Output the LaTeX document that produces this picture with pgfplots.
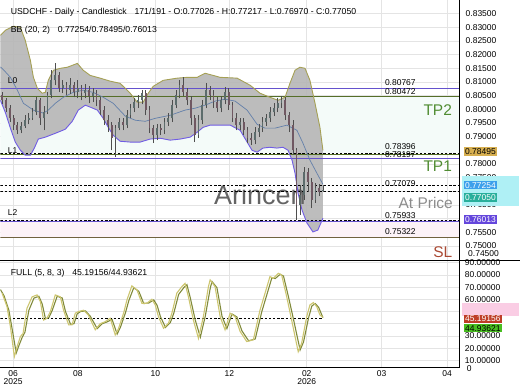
\documentclass[border=0pt]{standalone}
\usepackage{pgfplots}
\pgfplotsset{compat=1.18}
\usepackage{pgfplotstable}
\usepgfplotslibrary{fillbetween}
\usepackage{fontspec}
\setmainfont{Liberation Sans}

\definecolor{gridc}{RGB}{228,228,228}
\definecolor{bbfill}{RGB}{182,182,182}
\definecolor{bbupc}{RGB}{165,160,85}
\definecolor{bbloc}{RGB}{112,92,228}
\definecolor{bbmidc}{RGB}{100,128,170}
\definecolor{lvlpurple}{RGB}{100,82,205}
\definecolor{lvlolive}{RGB}{85,110,40}
\definecolor{slline}{RGB}{112,98,62}
\definecolor{wickc}{RGB}{78,78,78}
\definecolor{upc}{RGB}{92,108,108}
\definecolor{dnc}{RGB}{112,88,98}
\definecolor{tpgreen}{RGB}{80,140,50}
\definecolor{slred}{RGB}{170,72,50}
\definecolor{atgray}{RGB}{140,140,140}
\definecolor{wmark}{RGB}{100,100,100}
\definecolor{tp2zone}{RGB}{244,251,249}
\definecolor{slzone}{RGB}{252,242,247}
\definecolor{oscK}{RGB}{205,198,112}
\definecolor{oscD}{RGB}{128,138,58}
\definecolor{boxgold}{RGB}{215,175,80}
\definecolor{boxblue}{RGB}{60,160,235}
\definecolor{boxteal}{RGB}{40,175,155}
\definecolor{boxpurple}{RGB}{100,70,220}
\definecolor{boxcyan}{RGB}{175,240,245}
\definecolor{boxred}{RGB}{190,62,40}
\definecolor{boxgreen}{RGB}{72,190,32}
\definecolor{boxpink}{RGB}{250,205,228}

\pgfplotstableread{
x o h l c
1 0.8051 0.8062 0.8018 0.8033
3 0.8033 0.8040 0.7989 0.8004
5 0.8004 0.8015 0.7953 0.7967
7 0.7967 0.7978 0.7923 0.7942
9 0.7942 0.7953 0.7909 0.7923
11 0.7923 0.7953 0.7912 0.7938
13 0.7938 0.7978 0.7931 0.7960
15 0.7960 0.7986 0.7945 0.7967
17 0.7967 0.8004 0.7960 0.7989
19 0.7989 0.8044 0.7978 0.8033
21 0.8033 0.8040 0.7942 0.7967
23 0.7967 0.8011 0.7923 0.7989
25 0.7989 0.8062 0.7982 0.8051
27 0.8051 0.8143 0.8040 0.8106
29 0.8106 0.8168 0.8088 0.8124
31 0.8124 0.8135 0.8062 0.8077
33 0.8077 0.8106 0.8059 0.8088
35 0.8088 0.8099 0.8051 0.8070
37 0.8070 0.8114 0.8055 0.8088
39 0.8088 0.8099 0.8044 0.8062
41 0.8062 0.8106 0.8040 0.8077
43 0.8077 0.8088 0.8033 0.8059
45 0.8059 0.8092 0.8040 0.8070
47 0.8070 0.8084 0.8022 0.8048
49 0.8048 0.8077 0.8026 0.8059
51 0.8059 0.8070 0.8011 0.8033
53 0.8033 0.8044 0.7978 0.7997
55 0.7997 0.8011 0.7942 0.7960
57 0.7960 0.7978 0.7916 0.7942
59 0.7942 0.7953 0.7850 0.7894
61 0.7894 0.7942 0.7825 0.7931
63 0.7931 0.7967 0.7923 0.7953
65 0.7953 0.7967 0.7923 0.7942
67 0.7942 0.7997 0.7931 0.7978
69 0.7978 0.8018 0.7967 0.8004
71 0.8004 0.8040 0.7989 0.8026
73 0.8026 0.8051 0.8004 0.8033
75 0.8033 0.8070 0.8018 0.8059
77 0.8059 0.8070 0.7978 0.7997
79 0.7997 0.8011 0.7912 0.7931
81 0.7931 0.7942 0.7876 0.7905
83 0.7905 0.7945 0.7887 0.7931
85 0.7931 0.7945 0.7905 0.7923
87 0.7923 0.7967 0.7909 0.7953
89 0.7953 0.7986 0.7938 0.7967
91 0.7967 0.8033 0.7953 0.8015
93 0.8015 0.8070 0.8004 0.8051
95 0.8051 0.8106 0.8040 0.8088
97 0.8088 0.8117 0.8048 0.8062
99 0.8062 0.8077 0.8015 0.8033
101 0.8033 0.8048 0.7942 0.7967
103 0.7967 0.7978 0.7880 0.7905
105 0.7905 0.7978 0.7894 0.7960
107 0.7960 0.8033 0.7945 0.8015
109 0.8015 0.8095 0.8004 0.8070
111 0.8070 0.8084 0.8033 0.8051
113 0.8051 0.8070 0.8004 0.8026
115 0.8026 0.8044 0.7989 0.8004
117 0.8004 0.8048 0.7989 0.8033
119 0.8033 0.8081 0.8018 0.8062
121 0.8062 0.8077 0.7997 0.8015
123 0.8015 0.8026 0.7953 0.7967
125 0.7967 0.7986 0.7923 0.7942
127 0.7942 0.7967 0.7923 0.7953
129 0.7953 0.7967 0.7905 0.7923
131 0.7923 0.7934 0.7876 0.7894
133 0.7894 0.7912 0.7869 0.7887
135 0.7887 0.7934 0.7872 0.7916
137 0.7916 0.7945 0.7898 0.7931
139 0.7931 0.7971 0.7916 0.7953
141 0.7953 0.7982 0.7938 0.7967
143 0.7967 0.8008 0.7953 0.7989
145 0.7989 0.8022 0.7975 0.8004
147 0.8004 0.8040 0.7989 0.8022
149 0.8022 0.8048 0.8004 0.8033
151 0.8033 0.8044 0.7960 0.7978
153 0.7978 0.7989 0.7916 0.7942
155 0.7942 0.7960 0.7832 0.7850
157 0.7850 0.7858 0.7594 0.7649
159 0.7649 0.7722 0.7613 0.7686
161 0.7686 0.7788 0.7668 0.7770
163 0.7770 0.7785 0.7697 0.7733
165 0.7733 0.7748 0.7638 0.7668
167 0.7668 0.7730 0.7657 0.7712
169 0.7712 0.7726 0.7682 0.7697
171 0.77026 0.77217 0.76970 0.77050
}\candles

\pgfplotstableread{
x y
0 0.8271
2.6 0.8289
6.9 0.8304
10.6 0.8300
13.2 0.8252
15.9 0.8179
17.5 0.8117
19.6 0.8077
22.2 0.8059
23.8 0.8062
25.4 0.8106
28.1 0.8143
31.8 0.8150
35.5 0.8154
40.8 0.8168
43.9 0.8143
47.6 0.8124
52.9 0.8114
58.2 0.8103
63.5 0.8095
68.8 0.8059
72.5 0.8026
75.7 0.8026
78.4 0.8059
81.0 0.8084
86.3 0.8106
93.7 0.8114
99.0 0.8117
104.3 0.8117
108.5 0.8132
112.8 0.8124
116.5 0.8117
125.5 0.8114
132.4 0.8088
137.6 0.8059
142.9 0.8044
147.2 0.8033
150.9 0.8044
153.5 0.8095
156.2 0.8143
158.8 0.8154
161.5 0.8150
164.1 0.8106
166.8 0.8022
169.4 0.7934
171 0.78495
}\bbup

\pgfplotstableread{
x y
0 0.8155
1.6 0.8145
5.3 0.8117
9.0 0.8070
12.2 0.8022
17.5 0.7997
22.8 0.7986
25.4 0.7997
29.1 0.8022
33.4 0.8044
38.6 0.8062
43.9 0.8070
49.2 0.8062
54.5 0.8044
59.8 0.8022
66.2 0.7975
71.5 0.7960
76.8 0.7956
82.1 0.7967
90.0 0.7978
97.9 0.7997
103.2 0.8004
108.5 0.8015
113.8 0.8030
119.1 0.8037
124.4 0.8030
130.8 0.7997
136.1 0.7945
140.3 0.7931
145.6 0.7931
151.9 0.7942
157.2 0.7923
160.4 0.7876
164.1 0.7814
167.8 0.7766
171 0.77254
}\bbmid

\pgfplotstableread{
x y
0 0.8033
2.6 0.7989
5.3 0.7931
7.9 0.7880
10.6 0.7850
13.2 0.7832
15.9 0.7832
18.0 0.7858
20.1 0.7891
23.8 0.7898
29.1 0.7912
34.4 0.7927
38.1 0.7956
41.3 0.7997
45.0 0.8015
47.6 0.8008
51.4 0.7997
54.5 0.7967
57.2 0.7934
59.8 0.7905
63.5 0.7883
68.8 0.7880
74.1 0.7880
79.4 0.7891
84.7 0.7894
90.0 0.7887
95.3 0.7891
100.6 0.7898
104.3 0.7916
107.5 0.7934
111.2 0.7942
116.5 0.7942
121.8 0.7942
127.1 0.7923
130.8 0.7880
133.4 0.7850
136.1 0.7843
139.2 0.7858
142.9 0.7861
146.6 0.7858
149.8 0.7861
152.5 0.7850
154.6 0.7814
156.2 0.7766
157.8 0.7693
159.9 0.7631
162.5 0.7584
165.7 0.7551
168.3 0.7558
171 0.76013
}\bblo

\pgfplotstableread{
x y
0.9 65
3.5 54
5.3 37.6
7.4 13
8.8 21
10.6 29.5
12.0 32
14.1 52.7
16.8 62
19.4 63.6
21.2 58
22.9 43
24.7 44.5
26.5 50
29.1 63.6
31.8 62
33.5 51
36.2 39
38.0 39
39.7 48.6
41.5 50
44.1 51
46.7 47
50.3 35
52.9 40
55.6 41.7
58.2 44.5
60.9 30.8
62.6 36
65.3 48.6
67.1 59.5
69.7 71
72.4 67.7
75.0 56.8
77.7 56.8
80.3 60
82.1 55.4
83.8 45.8
86.5 36.3
89.1 40.4
90.9 48.6
93.5 65
96.2 70.4
97.9 73
99.7 62
102.3 43
105.0 28
107.6 45.8
110.3 70.4
111.2 75.9
113.8 70.4
116.5 45.8
119.1 35
121.8 48.6
124.4 45.8
127.1 33.6
130.6 25.4
134.1 26.8
137.6 51
140.3 65
142.9 78.6
144.7 77.3
147.3 81.3
149.1 80
151.8 62
154.4 43
156.2 29.5
157.9 17
159.7 24
162.4 45.8
164.1 55.4
165.9 57.3
167.7 54
169.4 47.2
171 45.19156
}\oscK

\pgfplotstableread{
x y
0 68
1.9 63
4.5 51
6.3 35
8.4 16
9.8 22
11.6 29
13.0 33
15.1 51
17.8 61
20.4 62.5
22.2 56
23.9 44
25.7 45
27.5 51
30.1 62.5
32.8 61
34.5 50
37.2 39.5
39.0 40
40.7 48
42.5 50
45.1 50.5
47.7 46
51.3 36
53.9 40
56.6 41.5
59.2 43.5
61.9 31.5
63.6 37
66.3 49
68.1 59
70.7 69.5
73.4 66.5
76.0 56.5
78.7 57
81.3 59.5
83.1 55
84.8 46
87.5 37
90.1 41
91.9 48.5
94.5 64
97.2 69.5
98.9 72
100.7 61
103.3 43
106.0 29
108.6 46
111.3 69.5
112.2 74.5
114.8 69.5
117.5 46
120.1 36
122.8 48
125.4 45.5
128.1 34
131.6 26
135.1 27.5
138.6 50
141.3 64
143.9 77.5
145.7 77
148.3 80.5
150.1 79
152.8 61.5
155.4 43.5
157.2 30.5
158.9 18.5
160.7 25
163.4 45
165.1 54.5
166.9 56.5
168.7 53.5
171 44.93621
}\oscD

\begin{document}
\begin{tikzpicture}

% ---------------- main price panel ----------------
\begin{axis}[
  at={(0pt,0pt)}, anchor=north west,
  scale only axis, width=460pt, height=260pt,
  xmin=0, xmax=243.5, ymin=0.74483, ymax=0.83986,
  axis line style={draw=none},
  major tick length=0pt,
  xtick={6.7,41.1,82.2,121.4,162.4,202.1,236.8}, xticklabels={},
  ytick={0.750,0.755,0.760,0.765,0.770,0.775,0.780,0.785,0.790,0.795,0.800,0.805,0.810,0.815,0.820,0.825,0.830,0.835},
  yticklabels={0.75000,0.75500,{},0.76500,{},0.77500,0.78000,{},0.79000,0.79500,0.80000,0.80500,0.81000,0.81500,0.82000,0.82500,0.83000,0.83500},
  yticklabel pos=right,
  yticklabel style={font=\fontsize{8.5}{9}\selectfont, xshift=2.5pt},
  grid=major, major grid style={draw=gridc, line width=0.5pt},
]
  % faint zones (same layer as the band fill, drawn first)
  \addplot[name path=za, draw=none, forget plot] coordinates {(0,0.80472) (243.5,0.80472)};
  \addplot[name path=zb, draw=none, forget plot] coordinates {(0,0.78396) (243.5,0.78396)};
  \addplot[fill=tp2zone, draw=none, forget plot] fill between[of=za and zb];
  \addplot[name path=zc, draw=none, forget plot] coordinates {(0,0.75933) (243.5,0.75933)};
  \addplot[name path=zd, draw=none, forget plot] coordinates {(0,0.75322) (243.5,0.75322)};
  \addplot[fill=slzone, draw=none, forget plot] fill between[of=zc and zd];

  \addplot[name path=up, draw=none, forget plot] table {\bbup};
  \addplot[name path=lo, draw=none, forget plot] table {\bblo};
  \addplot[fill=bbfill, fill opacity=0.9, draw=none, forget plot] fill between[of=up and lo];

  % watermark
  \node[anchor=west, text=wmark, font=\fontsize{27}{27}\selectfont, inner sep=0pt] at (axis cs:113.2,0.7686) {Arincen};

  % levels
  \addplot[lvlpurple, line width=0.9pt, forget plot] coordinates {(0,0.80767) (243.5,0.80767)};
  \addplot[lvlolive, line width=0.9pt, forget plot] coordinates {(0,0.80472) (243.5,0.80472)};
  \addplot[black, line width=0.8pt, dash pattern=on 2.4pt off 1.8pt, forget plot] coordinates {(0,0.78396) (243.5,0.78396)};
  \addplot[lvlolive, line width=0.8pt, forget plot] coordinates {(0,0.78340) (243.5,0.78340)};
  \addplot[lvlpurple, line width=0.9pt, forget plot] coordinates {(0,0.78197) (243.5,0.78197)};
  \addplot[black, line width=0.8pt, dash pattern=on 2.4pt off 1.8pt, forget plot] coordinates {(0,0.77224) (243.5,0.77224)};
  \addplot[black, line width=0.8pt, dash pattern=on 2.4pt off 1.8pt, forget plot] coordinates {(0,0.76979) (243.5,0.76979)};
  \addplot[black, line width=0.8pt, dash pattern=on 2.4pt off 1.8pt, forget plot] coordinates {(0,0.75933) (243.5,0.75933)};
  \addplot[lvlpurple, line width=0.9pt, forget plot] coordinates {(0,0.75890) (243.5,0.75890)};
  \addplot[slline, line width=0.9pt, forget plot] coordinates {(0,0.75322) (243.5,0.75322)};

  % bands
  \addplot[bbupc, line width=0.9pt, forget plot] table {\bbup};
  \addplot[bbloc, line width=0.9pt, forget plot] table {\bblo};
  \addplot[bbmidc, line width=0.7pt, forget plot] table {\bbmid};

  % candles: wicks
  \addplot[draw=none, mark=none, forget plot,
    error bars/.cd, y dir=plus, y explicit, error mark=none,
    error bar style={draw=wickc, line width=0.5pt}]
    table[x=x, y=l, y error plus expr=\thisrow{h}-\thisrow{l}] {\candles};
  % up bodies
  \addplot[draw=none, mark=none, forget plot,
    restrict expr to domain={\thisrow{c}-\thisrow{o}}{0:1},
    error bars/.cd, y dir=plus, y explicit, error mark=none,
    error bar style={draw=upc, line width=1.8pt}]
    table[x=x, y=o, y error plus expr=\thisrow{c}-\thisrow{o}] {\candles};
  % down bodies
  \addplot[draw=none, mark=none, forget plot,
    restrict expr to domain={\thisrow{o}-\thisrow{c}}{0:1},
    error bars/.cd, y dir=plus, y explicit, error mark=none,
    error bar style={draw=dnc, line width=1.8pt}]
    table[x=x, y=c, y error plus expr=\thisrow{o}-\thisrow{c}] {\candles};
\end{axis}

% ---------------- oscillator panel ----------------
\begin{axis}[
  at={(0pt,-260pt)}, anchor=north west,
  scale only axis, width=460pt, height=108pt,
  xmin=0, xmax=243.5, ymin=3.85, ymax=92.2,
  axis line style={draw=none},
  major tick length=0pt,
  xtick={6.7,41.1,82.2,121.4,162.4,202.1,236.8},
  xticklabels={{06\\2025},08,10,12,{02\\2026},03,04},
  xticklabel style={align=center, font=\fontsize{8.5}{8}\selectfont, yshift=1pt},
  ytick={10,20,30,40,50,60,70,80,90},
  yticklabels={10.00000,20.00000,30.00000,{},50.00000,60.00000,70.00000,80.00000,90.00000},
  yticklabel pos=right,
  yticklabel style={font=\fontsize{8.5}{9}\selectfont, xshift=5pt, inner sep=0pt},
  grid=major, major grid style={draw=gridc, line width=0.5pt},
]
  \addplot[black, line width=0.8pt, dash pattern=on 2.4pt off 1.8pt, forget plot] coordinates {(0,44.6) (171,44.6)};
  \addplot[oscD, line width=1.1pt, forget plot] table {\oscD};
  \addplot[oscK, line width=1.1pt, forget plot] table {\oscK};
\end{axis}

% frame lines
\draw[black, line width=0.8pt] (460pt,0pt) -- (460pt,-368pt);
\draw[black, line width=0.8pt] (0pt,-260pt) -- (520pt,-260pt);
\draw[black, line width=0.8pt] (0pt,-368pt) -- (460pt,-368pt);

% header texts
\node[anchor=west, font=\fontsize{8.7}{10}\selectfont] at (7pt,-12pt) {USDCHF - Daily - Candlestick\hspace{0.9em}171/191 - O:0.77026 - H:0.77217 - L:0.76970 - C:0.77050};
\node[anchor=west, font=\fontsize{8.7}{10}\selectfont] at (7pt,-29.5pt) {BB (20, 2)\hspace{0.9em}0.77254/0.78495/0.76013};
\node[anchor=west, font=\fontsize{8.7}{10}\selectfont] at (7pt,-273.5pt) {FULL (5, 8, 3)\hspace{0.9em}45.19156/44.93621};

% level tags
\node[anchor=west, font=\fontsize{8.5}{9}\selectfont] at (4pt,-80pt) {L0};
\node[anchor=west, font=\fontsize{8.5}{9}\selectfont] at (4pt,-150pt) {L1};
\node[anchor=west, font=\fontsize{8.5}{9}\selectfont] at (4pt,-212pt) {L2};

\node[anchor=west, font=\fontsize{8.5}{9}\selectfont, inner sep=0pt] at (385pt,-82pt) {0.80767};
\node[anchor=west, font=\fontsize{8.5}{9}\selectfont, inner sep=0pt] at (385pt,-91pt) {0.80472};
\node[anchor=west, font=\fontsize{8.5}{9}\selectfont, inner sep=0pt] at (385pt,-146.5pt) {0.78396};
\node[anchor=west, font=\fontsize{8.5}{9}\selectfont, inner sep=0pt] at (385pt,-154.8pt) {0.78197};
\node[anchor=west, font=\fontsize{8.5}{9}\selectfont, inner sep=0pt] at (385pt,-183.5pt) {0.77079};
\node[anchor=west, font=\fontsize{8.5}{9}\selectfont, inner sep=0pt] at (385pt,-216pt) {0.75933};
\node[anchor=west, font=\fontsize{8.5}{9}\selectfont, inner sep=0pt] at (385pt,-232pt) {0.75322};

% zone titles
\node[text=tpgreen, font=\fontsize{15.5}{16}\selectfont] at (438pt,-110pt) {TP2};
\node[text=tpgreen, font=\fontsize{15.5}{16}\selectfont] at (438pt,-166.5pt) {TP1};
\node[text=atgray, font=\fontsize{15.5}{16}\selectfont] at (426pt,-203pt) {At Price};
\node[text=slred, font=\fontsize{15.5}{16}\selectfont] at (443pt,-252pt) {SL};

% right-axis tags
\node[anchor=west, font=\fontsize{8.5}{9}\selectfont] at (465pt,-253.5pt) {0.74500};
\fill[boxcyan] (462pt,-176pt) rectangle (519pt,-206pt);
\node[anchor=west, fill=boxgold, inner sep=1.2pt, font=\fontsize{8.5}{9}\selectfont] at (464pt,-151.5pt) {0.78495};
\node[anchor=west, fill=boxblue, text=white, inner sep=1.2pt, font=\fontsize{8.5}{9}\selectfont] at (464pt,-185pt) {0.77254};
\node[anchor=west, fill=boxteal, text=white, inner sep=1.2pt, font=\fontsize{8.5}{9}\selectfont] at (464pt,-197.5pt) {0.77050};
\node[anchor=west, fill=boxpurple, text=white, inner sep=1.2pt, font=\fontsize{8.5}{9}\selectfont] at (464pt,-219.3pt) {0.76013};
\node[anchor=west, font=\fontsize{8.5}{9}\selectfont, inner sep=0pt] at (467pt,-368.5pt) {0};
\fill[boxpink] (462pt,-303pt) rectangle (519pt,-316pt);
\node[anchor=west, fill=boxred, text=white, inner xsep=1.2pt, inner ysep=1pt, font=\fontsize{8.5}{9}\selectfont] at (464pt,-319pt) {45.19156};
\node[anchor=west, fill=boxgreen, text=black, inner xsep=1.2pt, inner ysep=1pt, font=\fontsize{8.5}{9}\selectfont] at (464pt,-328.3pt) {44.93621};

\path (0pt,0pt) rectangle (520pt,-390pt);
\end{tikzpicture}
\end{document}
